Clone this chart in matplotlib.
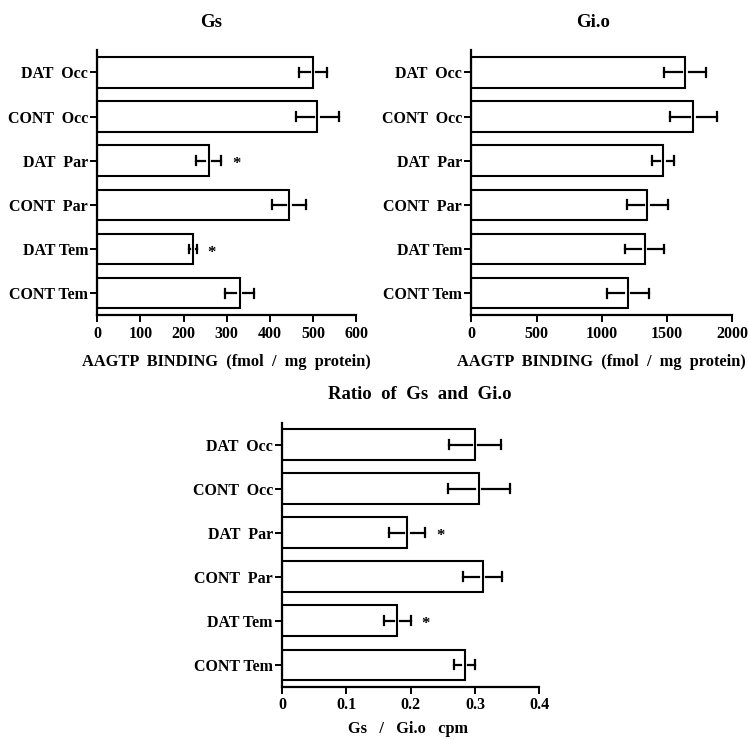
import numpy as np
import matplotlib.pyplot as plt

plt.rcParams['font.family'] = ['Liberation Serif', 'DejaVu Serif']
plt.rcParams['font.weight'] = 'bold'

groups = ['DAT  Occ', 'CONT  Occ', 'DAT  Par', 'CONT  Par', 'DAT Tem', 'CONT Tem']

gs_mean = [500, 510, 258, 445, 222, 330]
gs_err = [32, 50, 30, 40, 9, 33]
gs_star = [False, False, True, False, True, False]

gio_mean = [1640, 1700, 1470, 1350, 1330, 1200]
gio_err = [160, 180, 85, 160, 150, 160]
gio_star = [False] * 6

ratio_mean = [0.300, 0.306, 0.195, 0.312, 0.179, 0.284]
ratio_err = [0.040, 0.048, 0.028, 0.030, 0.021, 0.016]
ratio_star = [False, False, True, False, True, False]

gs_ticks = [0, 100, 200, 300, 400, 500, 600]
gio_ticks = [0, 500, 1000, 1500, 2000]
ratio_ticks = [0, 0.1, 0.2, 0.3, 0.4]
ratio_ticklabels = ['0', '0.1', '0.2', '0.3', '0.4']


def panel(ax, mean, err, star, ticks, title, xlabel, title_x=0.5, label_x=0.5,
          ticklabels=None, labelpad=9):
    y = np.arange(len(groups))
    xmax = ticks[-1]
    ax.barh(y, mean, height=0.69, color='white', edgecolor='black', linewidth=1.5)
    gap = 0.013 * xmax
    for yi, m, e, s in zip(y, mean, err, star):
        lo, hi = m - e, m + e
        if m - gap > lo:
            ax.plot([lo, m - gap], [yi, yi], color='black', lw=1.6)
        ax.plot([m + gap, hi], [yi, yi], color='black', lw=1.6)
        ax.plot([lo, lo], [yi - 0.1, yi + 0.1], color='black', lw=1.6)
        ax.plot([hi, hi], [yi - 0.1, yi + 0.1], color='black', lw=1.6)
        if s:
            ax.text(hi + 0.058 * xmax, yi + 0.08, '*', ha='center', va='center',
                    fontsize=12, fontweight='bold')
    ax.set_ylim(len(groups) - 0.5, -0.5)
    ax.set_xlim(0, xmax)
    ax.set_yticks(y)
    ax.set_yticklabels(groups, fontsize=11.5, fontweight='bold')
    ax.set_xticks(ticks)
    if ticklabels is not None:
        ax.set_xticklabels(ticklabels)
    for lab in ax.get_xticklabels():
        lab.set_fontsize(11.5)
        lab.set_fontweight('bold')
    for side in ['top', 'right']:
        ax.spines[side].set_visible(False)
    for side in ['left', 'bottom']:
        ax.spines[side].set_linewidth(1.6)
    ax.tick_params(width=1.4, length=5)
    ax.tick_params(axis='y', pad=1.5)
    ax.tick_params(axis='x', pad=2.5)
    ax.set_title(title, fontsize=13.5, fontweight='bold', pad=17, x=title_x)
    ax.set_xlabel(xlabel, fontsize=11.8, fontweight='bold', labelpad=labelpad, x=label_x)


fig = plt.figure(figsize=(7.48, 7.40), dpi=100)
ax1 = fig.add_axes([0.130, 0.574, 0.346, 0.358])
ax2 = fig.add_axes([0.630, 0.574, 0.349, 0.358])
ax3 = fig.add_axes([0.377, 0.072, 0.344, 0.357])

panel(ax1, gs_mean, gs_err, gs_star, gs_ticks, 'Gs',
      'AAGTP  BINDING  (fmol  /  mg  protein)', title_x=0.44)
panel(ax2, gio_mean, gio_err, gio_star, gio_ticks, 'Gi.o',
      'AAGTP  BINDING  (fmol  /  mg  protein)', title_x=0.467)
panel(ax3, ratio_mean, ratio_err, ratio_star, ratio_ticks, 'Ratio  of  Gs  and  Gi.o',
      'Gs   /   Gi.o   cpm', title_x=0.537, label_x=0.49, ticklabels=ratio_ticklabels,
      labelpad=6)

fig.savefig('out.png', dpi=100)
